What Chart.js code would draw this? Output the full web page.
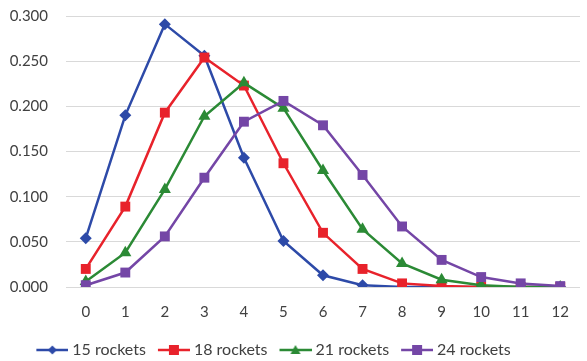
<!DOCTYPE html>
<html>
<head>
<meta charset="utf-8">
<script src="https://cdn.jsdelivr.net/npm/chart.js@4/dist/chart.umd.min.js"></script>
<style>
  html, body { margin: 0; padding: 0; background: #ffffff; }
  #wrap { width: 587px; height: 361px; position: relative; }
</style>
</head>
<body>
<div id="wrap"><canvas id="c"></canvas></div>
<script>
// Number of successes on the x axis
const categories = ['0','1','2','3','4','5','6','7','8','9','10','11','12'];

// Probability for each launch size
const rockets15 = [0.054, 0.190, 0.291, 0.256, 0.143, 0.051, 0.013, 0.002, 0.000, 0.000, 0.000, 0.000, 0.000];
const rockets18 = [0.020, 0.089, 0.193, 0.254, 0.223, 0.137, 0.060, 0.020, 0.004, 0.001, 0.000, 0.000, 0.000];
const rockets21 = [0.006, 0.038, 0.108, 0.189, 0.226, 0.198, 0.129, 0.064, 0.026, 0.008, 0.002, 0.000, 0.000];
const rockets24 = [0.002, 0.016, 0.056, 0.121, 0.183, 0.206, 0.179, 0.124, 0.067, 0.030, 0.011, 0.004, 0.001];

const seriesNames = ['15 rockets', '18 rockets', '21 rockets', '24 rockets'];
const yTicks = [0, 0.05, 0.10, 0.15, 0.20, 0.25, 0.30];

const colors = ['#2d4aa8', '#e8222b', '#2b8a35', '#7446a6'];
const styles = ['rectRot', 'rect', 'triangle', 'rect'];
const radii = [6, 7, 7, 7];

// Legend swatch: a short line with the series marker on it.
// The canvas is a bit wider than the legend box so the line sits close to the text.
const BOX_W = 35, SW_W = 43, LINE_W = 32;
function swatch(color, style) {
  const cv = document.createElement('canvas');
  cv.width = SW_W; cv.height = 14;
  const ctx = cv.getContext('2d');
  const x0 = SW_W - LINE_W, mid = x0 + LINE_W / 2;
  ctx.strokeStyle = color; ctx.lineWidth = 2.5;
  ctx.beginPath(); ctx.moveTo(x0, 7); ctx.lineTo(SW_W, 7); ctx.stroke();
  ctx.fillStyle = color;
  ctx.beginPath();
  if (style === 'rectRot') {
    ctx.moveTo(mid, 2.5); ctx.lineTo(mid + 4.5, 7); ctx.lineTo(mid, 11.5); ctx.lineTo(mid - 4.5, 7);
  } else if (style === 'triangle') {
    ctx.moveTo(mid, 2); ctx.lineTo(mid + 5, 11); ctx.lineTo(mid - 5, 11);
  } else {
    ctx.rect(mid - 5, 2, 10, 10);
  }
  ctx.closePath(); ctx.fill();
  return cv;
}

// The legend row sits a little left of the page centre
const LEGEND_SHIFT = -23;
const legendShift = {
  id: 'legendShift',
  beforeDraw(chart) {
    const lg = chart.legend;
    if (lg && !lg._shifted) {
      lg.left += LEGEND_SHIFT; lg.right += LEGEND_SHIFT; lg._shifted = true;
    }
  }
};

const allSeries = [rockets15, rockets18, rockets21, rockets24];
const datasets = allSeries.map((vals, i) => ({
  label: seriesNames[i],
  data: vals,
  borderColor: colors[i],
  backgroundColor: colors[i],
  borderWidth: 2.5,
  pointStyle: styles[i],
  pointRadius: radii[i],
  pointHoverRadius: radii[i],
  pointBorderWidth: 0,
  pointBackgroundColor: colors[i],
  tension: 0,
  order: 4 - i
}));

const FONT = 'Lato, "Open Sans", sans-serif';

new Chart(document.getElementById('c'), {
  type: 'line',
  data: { labels: categories, datasets },
  plugins: [legendShift],
  options: {
    responsive: true,
    maintainAspectRatio: false,
    animation: false,
    layout: { padding: { top: 0, right: 1, left: 0, bottom: -7 } },
    plugins: {
      tooltip: { enabled: false },
      legend: {
        position: 'bottom',
        labels: {
          usePointStyle: true,
          pointStyleWidth: BOX_W,
          padding: 5,
          color: '#404040',
          font: { family: FONT, size: 16 },
          generateLabels: (chart) => chart.data.datasets.map((ds, i) => ({
            text: ds.label,
            fillStyle: ds.borderColor,
            strokeStyle: ds.borderColor,
            fontColor: '#404040',
            lineWidth: 0,
            pointStyle: swatch(ds.borderColor, styles[i]),
            datasetIndex: i,
            hidden: false
          }))
        }
      }
    },
    scales: {
      x: {
        type: 'category',
        offset: true,
        grid: { display: false, drawTicks: false },
        border: { display: false },
        ticks: { color: '#404040', font: { family: FONT, size: 15 }, padding: 16 }
      },
      y: {
        min: 0,
        max: 0.3,
        afterFit: (s) => { s.width = 66; s.paddingTop = 16; },
        afterBuildTicks: (s) => { s.ticks = yTicks.map(v => ({ value: v })); },
        grid: { color: '#d9d9d9', lineWidth: 1, drawTicks: false },
        border: { display: false },
        ticks: {
          color: '#404040',
          font: { family: FONT, size: 15 },
          padding: 18,
          callback: (v) => Number(v).toFixed(3)
        }
      }
    }
  }
});
</script>
</body>
</html>
